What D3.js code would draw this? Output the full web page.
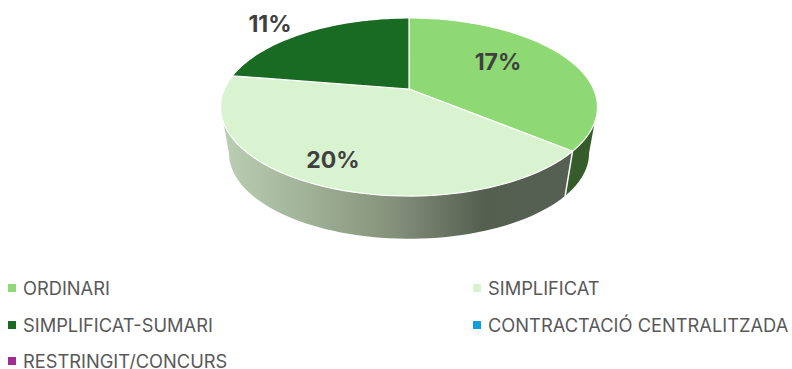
<!DOCTYPE html>
<html>
<head>
<meta charset="utf-8">
<script src="https://cdn.jsdelivr.net/npm/d3@7"></script>
<style>
  html, body { margin: 0; background: #fff; }
  text { font-family: Inter, "Open Sans", sans-serif; }
</style>
</head>
<body>
<div id="chart"></div>
<script>
const categories = ["ORDINARI", "SIMPLIFICAT", "SIMPLIFICAT-SUMARI", "CONTRACTACIÓ CENTRALITZADA", "RESTRINGIT/CONCURS"];
const values = [17.3, 20, 10.8, 0, 0];
const colors = ["#8ED973", "#D9F2D0", "#196B24", "#0F9ED5", "#A02B93"];
const wallStops = [
  [0, "#b9ceb3"], [0.2, "#a4b69b"], [0.47, "#87947d"], [0.75, "#555f50"], [1, "#566052"]
];

const width = 792, height = 369;

const svg = d3.select("#chart").append("svg")
    .attr("width", width)
    .attr("height", height)
    .style("display", "block");

// pie is drawn tilted with a bit of perspective, so the centre sits above the ellipse middle
const cx = 409, cy = 89, persp = 0.2022;
const top3d = {a: 184.6, b: 85.4, y: cy};
const bot3d = {a: 176.3, b: 82, y: 136};

function project(p, angle) {
  const u = Math.sin(angle), v = Math.cos(angle), w = 1 + persp * v;
  return [cx + p.a * u / w, p.y - p.b * v / w];
}

const pie = d3.pie().sort(null).value(d => d);
const arcs = pie(values);

const line = d3.line();
const steps = (a0, a1) => d3.range(0, 61).map(i => a0 + (a1 - a0) * i / 60);

const defs = svg.append("defs");
const grad = defs.append("linearGradient")
    .attr("id", "wall")
    .attr("gradientUnits", "userSpaceOnUse")
    .attr("x1", 225).attr("x2", 570)
    .attr("y1", 0).attr("y2", 0);
grad.selectAll("stop")
  .data(wallStops)
  .enter().append("stop")
    .attr("offset", d => d[0])
    .attr("stop-color", d => d[1]);

// side wall, only the part facing the viewer
const visFrom = Math.acos(-persp), visTo = 2 * Math.PI - visFrom;
const wallFill = ["#375c2b", "url(#wall)"];

svg.append("g").selectAll("path")
  .data(arcs.slice(0, 2))
  .enter().append("path")
    .attr("fill", (d, i) => wallFill[i])
    .attr("d", d => {
      const s = steps(Math.max(d.startAngle, visFrom), Math.min(d.endAngle, visTo));
      return line(s.map(a => project(top3d, a)).concat(s.reverse().map(a => project(bot3d, a)))) + "Z";
    });

// white seam where slices meet on the wall
const seam = arcs[0].endAngle;
svg.append("path")
    .attr("fill", "none")
    .attr("stroke", "#fff")
    .attr("stroke-width", 1.5)
    .attr("d", line([project(top3d, seam), project(bot3d, seam)]));

svg.append("g").selectAll("path")
  .data(arcs.filter(d => d.value > 0))
  .enter().append("path")
    .attr("fill", d => colors[d.index])
    .attr("stroke", "#fff")
    .attr("stroke-width", 1.2)
    .attr("stroke-linejoin", "round")
    .attr("d", d => line([[cx, cy]].concat(steps(d.startAngle, d.endAngle).map(a => project(top3d, a)))) + "Z");

// data labels, placed by hand like the original
const labelOffsets = [[89, -27], [-76, 71], [-139, -65]];
svg.append("g").selectAll("text")
  .data(arcs.filter(d => d.value > 0))
  .enter().append("text")
    .attr("x", (d, i) => cx + labelOffsets[i][0])
    .attr("y", (d, i) => cy + labelOffsets[i][1])
    .attr("dy", ".36em")
    .attr("text-anchor", "middle")
    .attr("font-size", 23)
    .attr("font-weight", 700)
    .attr("fill", "#404040")
    .text(d => Math.round(d.value) + "%");

// legend
const legendX = [8, 473], legendY = [288, 325, 361];
const legend = svg.append("g").selectAll("g")
  .data(categories)
  .enter().append("g")
    .attr("transform", (d, i) => "translate(" + legendX[i % 2] + "," + legendY[Math.floor(i / 2)] + ")");

legend.append("rect")
    .attr("y", -4)
    .attr("width", 8)
    .attr("height", 8)
    .attr("fill", (d, i) => colors[i]);

legend.append("text")
    .attr("x", 15)
    .attr("dy", ".36em")
    .attr("font-size", 18.3)
    .attr("fill", "#595959")
    .text(d => d);
</script>
</body>
</html>
